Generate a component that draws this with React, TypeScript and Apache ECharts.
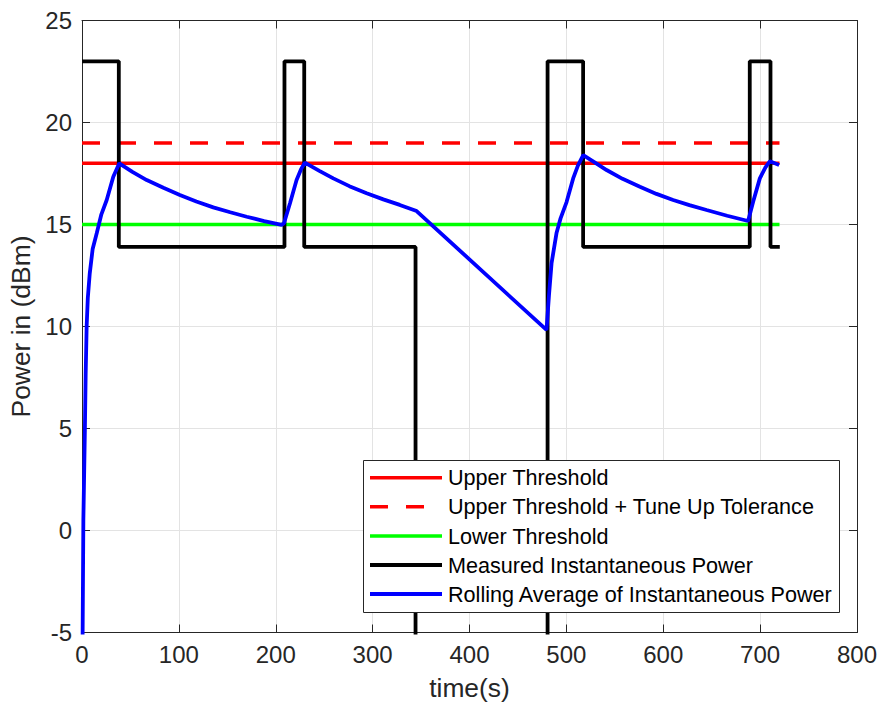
import React, { useEffect, useRef } from "react";
import * as echarts from "echarts";

// ---- data ----
const thresholdTime = [0, 720];
const upperThreshold = [18, 18];
const upperTolerance = [19, 19];
const lowerThreshold = [15, 15];

const measuredTime = [0, 38, 38, 209, 209, 229.4, 229.4, 344.3, 344.3, 480.6, 480.6, 517.3, 517.3, 689.3, 689.3, 710.7, 710.7, 720.3];
const measuredPower = [23, 23, 13.9, 13.9, 23, 23, 13.9, 13.9, -60, -60, 23, 23, 13.9, 13.9, 23, 23, 13.9, 13.9];

const avgTime = [
  0, 1.4, 3, 3.8, 4.8, 6, 8, 11, 15.2, 20, 25.5, 32.3, 38.5,
  52, 66.8, 84, 101, 118, 135.5, 153, 170, 188, 206,
  208.5, 214.7, 221.5, 226, 230,
  245, 259.4, 276, 293.8, 311, 328, 345.4,
  479.5, 482, 484.7, 489.9, 494, 500.2, 507, 512, 517.4,
  530, 541.5, 558, 575.9, 593, 610.2, 627, 644.7, 666, 687.6,
  692.8, 699.7, 705.5, 710, 719.6,
];
const avgPower = [
  -10, 0.5, 5, 7.7, 10, 11.4, 12.6, 13.8, 14.57, 15.5, 16.2, 17.34, 18.0,
  17.58, 17.18, 16.8, 16.45, 16.13, 15.84, 15.6, 15.38, 15.17, 14.98,
  15.06, 16.04, 17.18, 17.7, 18.03,
  17.63, 17.26, 16.88, 16.53, 16.23, 15.96, 15.66,
  9.83, 11.5, 13.1, 14.6, 15.3, 16.1, 17.26, 17.9, 18.4,
  18.02, 17.67, 17.24, 16.85, 16.5, 16.2, 15.95, 15.71, 15.43, 15.17,
  16.12, 17.26, 17.8, 18.1, 17.92,
];

const legendLabels = [
  "Upper Threshold",
  "Upper Threshold + Tune Up Tolerance",
  "Lower Threshold",
  "Measured Instantaneous Power",
  "Rolling Average of Instantaneous Power",
];

const xTicks = { min: 0, max: 800, interval: 100 };
const yTicks = { min: -5, max: 25, interval: 5 };

const zip = (xs: number[], ys: number[]) => xs.map((x, i) => [x, ys[i]]);

const FONT = "Liberation Sans";
const AXIS_COLOR = "#262626";
const GRID_COLOR = "#e3e3e3";

const seriesStyles = [
  { color: "#ff0000", width: 3.5, dash: null as number[] | null },
  { color: "#ff0000", width: 3.5, dash: [18, 18] },
  { color: "#00ff00", width: 3.5, dash: null },
  { color: "#000000", width: 3.8, dash: null },
  { color: "#0000ff", width: 3.8, dash: null },
];

export default function App() {
  const ref = useRef<HTMLDivElement>(null);
  useEffect(() => {
    document.body.style.margin = "0";
    const chart = echarts.init(ref.current!, null, { renderer: "svg" });
    const baseX = { type: "value" as const, min: xTicks.min, max: xTicks.max, interval: xTicks.interval };
    const baseY = { type: "value" as const, min: yTicks.min, max: yTicks.max, interval: yTicks.interval };
    const axisLine = { show: true, onZero: false, lineStyle: { color: AXIS_COLOR, width: 1 } };
    const axisTick = { show: true, inside: true, length: 8, lineStyle: { color: AXIS_COLOR } };
    const lineCommon = { type: "line" as const, showSymbol: false, symbol: "none", smooth: false, clip: true };

    const seriesData = [
      zip(thresholdTime, upperThreshold),
      zip(thresholdTime, upperTolerance),
      zip(thresholdTime, lowerThreshold),
      zip(measuredTime, measuredPower),
      zip(avgTime, avgPower),
    ];

    // custom legend (MATLAB style)
    const box = { x: 363, y: 460, w: 476, h: 152 };
    const rowY = [477.7, 506.7, 536, 565, 594];
    const legendEls: any[] = [
      {
        type: "rect",
        shape: { x: box.x + 0.5, y: box.y + 0.5, width: box.w, height: box.h },
        style: { fill: "#ffffff", stroke: AXIS_COLOR, lineWidth: 1 },
        z: 100,
      },
    ];
    legendLabels.forEach((label, i) => {
      const s = seriesStyles[i];
      legendEls.push({
        type: "line",
        shape: { x1: 370, y1: rowY[i], x2: 442, y2: rowY[i] },
        style: { stroke: s.color, lineWidth: s.width, lineDash: s.dash || undefined },
        z: 101,
      });
      legendEls.push({
        type: "text",
        x: 448,
        y: rowY[i],
        style: {
          text: label,
          fontSize: 21.6,
          fontFamily: FONT,
          fill: "#000000",
          verticalAlign: "middle",
          align: "left",
        },
        z: 101,
      });
    });

    chart.setOption({
      animation: false,
      textStyle: { fontFamily: FONT },
      grid: { left: 82, right: 25, top: 20.5, bottom: 74.5, containLabel: false },
      xAxis: [
        {
          ...baseX,
          position: "bottom",
          name: "time(s)",
          nameLocation: "middle",
          nameGap: 42,
          nameTextStyle: { fontSize: 26.4, color: AXIS_COLOR, fontFamily: FONT },
          axisLine,
          axisTick,
          axisLabel: { fontSize: 24, color: AXIS_COLOR, margin: 10, fontFamily: FONT },
          splitLine: { show: true, lineStyle: { color: GRID_COLOR, width: 1 } },
        },
        { ...baseX, position: "top", axisLine, axisTick, axisLabel: { show: false }, splitLine: { show: false } },
      ],
      yAxis: [
        {
          ...baseY,
          position: "left",
          name: "Power in (dBm)",
          nameLocation: "middle",
          nameGap: 48,
          nameRotate: 90,
          nameTextStyle: { fontSize: 26.4, color: AXIS_COLOR, fontFamily: FONT },
          axisLine,
          axisTick,
          axisLabel: { fontSize: 24, color: AXIS_COLOR, margin: 10, fontFamily: FONT },
          splitLine: { show: true, lineStyle: { color: GRID_COLOR, width: 1 } },
        },
        { ...baseY, position: "right", axisLine, axisTick, axisLabel: { show: false }, splitLine: { show: false } },
      ],
      graphic: legendEls,
      series: legendLabels.map((name, i) => ({
        ...lineCommon,
        name,
        data: seriesData[i],
        lineStyle: {
          color: seriesStyles[i].color,
          width: seriesStyles[i].width,
          type: seriesStyles[i].dash || "solid",
        },
        itemStyle: { color: seriesStyles[i].color },
        z: i < 3 ? 2 : i + 0,
      })),
    });
    return () => chart.dispose();
  }, []);
  return <div ref={ref} style={{ width: 882, height: 707 }} />;
}
